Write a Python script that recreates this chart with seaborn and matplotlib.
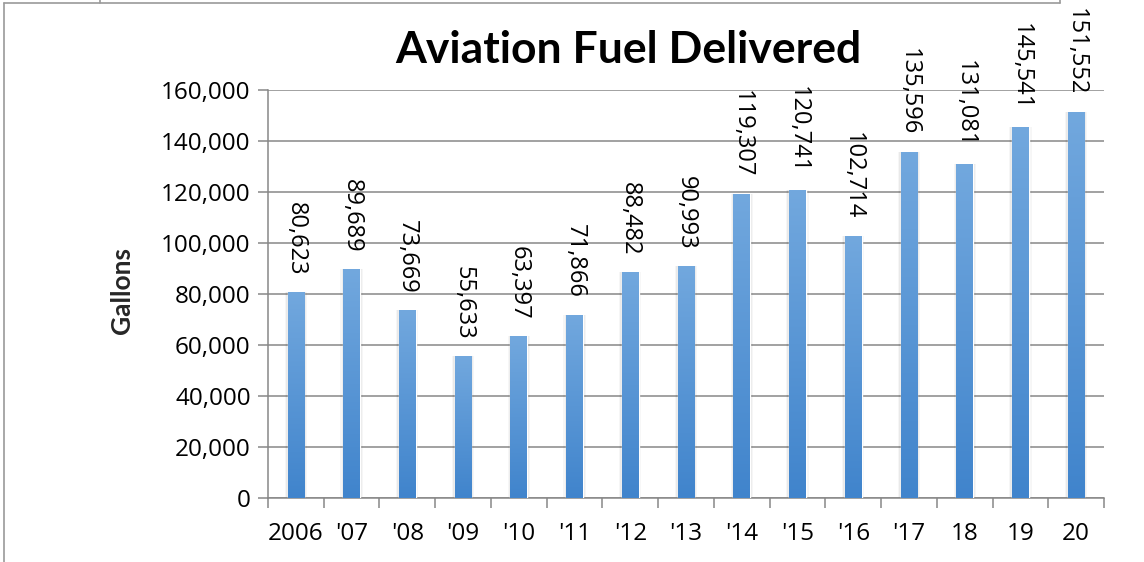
import numpy as np
import pandas as pd
import matplotlib
matplotlib.use("Agg")
import matplotlib.pyplot as plt
from matplotlib.lines import Line2D
from matplotlib.colors import LinearSegmentedColormap
from matplotlib.ticker import FuncFormatter, FixedLocator
import seaborn as sns

# Data
years = ["2006", "'07", "'08", "'09", "'10", "'11", "'12", "'13",
         "'14", "'15", "'16", "'17", "18", "19", "20"]
gallons = [80623, 89689, 73669, 55633, 63397, 71866, 88482, 90993,
           119307, 120741, 102714, 135596, 131081, 145541, 151552]
y_ticks = [0, 20000, 40000, 60000, 80000, 100000, 120000, 140000, 160000]

df = pd.DataFrame({"year": years, "gallons": gallons})

sns.set_theme(style="white")
plt.rcParams["font.family"] = ["Open Sans", "DejaVu Sans"]

fig = plt.figure(figsize=(11.44, 5.62), dpi=100)
ax = fig.add_axes([268 / 1144, 64 / 562, 836 / 1144, 408 / 562])

sns.barplot(data=df, x="year", y="gallons", color="#5b9bd5", width=0.3,
            saturation=1, ax=ax, zorder=3)

bars = list(ax.patches)

# Vertical gradient fill for each bar (lighter at top) plus a soft shadow
grad_cmap = LinearSegmentedColormap.from_list("bar", ["#4084cc", "#72a8de"])
grad = np.linspace(0, 1, 256).reshape(-1, 1)
for patch in bars:
    x0, y0 = patch.get_x(), patch.get_y()
    w, h = patch.get_width(), patch.get_height()
    img = ax.imshow(grad, cmap=grad_cmap, origin="lower", aspect="auto",
                    extent=[x0, x0 + w, y0, y0 + h], zorder=4)
    img.set_clip_path(patch)
    for k, a in [(0.10, 0.035), (0.06, 0.05)]:
        ax.bar(x0 + w / 2, h, width=w + k, bottom=y0,
               color="#000000", alpha=a, zorder=2, linewidth=0)

# Value labels, rotated, reading top to bottom
for patch, val in zip(bars, gallons):
    ax.annotate(f"{val:,}", xy=(patch.get_x() + patch.get_width() / 2, val),
                xytext=(0, 12), textcoords="offset points", rotation=-90,
                ha="center", va="bottom", fontsize=17, color="#000000",
                zorder=6, annotation_clip=False)

ax.set_xlim(-0.5, len(years) - 0.5)
ax.set_ylim(0, 160000)
ax.set_yticks(y_ticks)
ax.yaxis.set_major_formatter(FuncFormatter(lambda v, p: f"{int(v):,}"))
ax.yaxis.grid(True, color="#878787", linewidth=1.1, zorder=0)
ax.set_axisbelow(True)

ax.tick_params(axis="y", which="major", length=7.5, width=1.1, color="#878787",
               labelsize=17.5, pad=5, labelcolor="#000000", direction="out", left=True)
ax.tick_params(axis="x", which="major", length=0, labelsize=17.5, pad=17,
               labelcolor="#000000")
ax.xaxis.set_minor_locator(FixedLocator(np.arange(-0.5, len(years), 1.0)))
ax.tick_params(axis="x", which="minor", length=7, width=1.1, color="#878787",
               direction="out", bottom=True)

for side in ["top", "right"]:
    ax.spines[side].set_visible(False)
for side in ["left", "bottom"]:
    ax.spines[side].set_color("#878787")
    ax.spines[side].set_linewidth(1.1)

ax.set_xlabel("")
ax.set_ylabel("Gallons", fontsize=19, fontweight="bold", family=["Lato", "DejaVu Sans"])
ax.yaxis.set_label_coords((134 - 268) / 836, (562 - 290 - 64) / 408)

fig.text(628 / 1144, 1 - 50 / 562, "Aviation Fuel Delivered", ha="center",
         va="center", fontsize=32, fontweight="bold", color="#000000",
         family=["Lato", "DejaVu Sans"])

# Outer frame pieces of the screenshot
frame = "#9a9a9a"
fig.add_artist(Line2D([4 / 1144, 4 / 1144], [0, 1 - 3 / 562], color=frame, lw=1.2))
fig.add_artist(Line2D([4 / 1144, 1060 / 1144], [1 - 3 / 562, 1 - 3 / 562], color=frame, lw=1.2))
fig.add_artist(Line2D([100 / 1144, 100 / 1144], [1 - 3 / 562, 1], color=frame, lw=1.2))
fig.add_artist(Line2D([1060 / 1144, 1060 / 1144], [1 - 3 / 562, 1], color=frame, lw=1.2))

fig.savefig("out.png", dpi=100)
